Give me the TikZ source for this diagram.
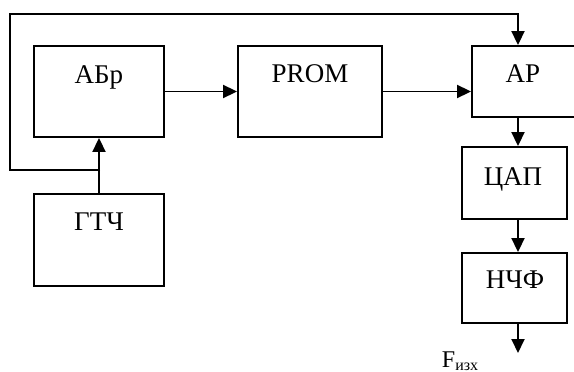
\documentclass[tikz,border=0pt]{standalone}
\usepackage{fontspec}
\setmainfont{Liberation Serif}
\usetikzlibrary{arrows.meta}
\begin{document}
\begin{tikzpicture}[x=1pt,y=-1pt,line width=1.9pt,
  blk/.style={draw,rectangle,inner sep=0pt},
  lbl/.style={anchor=base,font=\fontsize{27}{31}\selectfont,inner sep=0pt},
  arr/.style={-{Triangle[length=14pt,width=13pt]}}]
\useasboundingbox (0,0) rectangle (574,372);
% blocks
\node[blk,minimum width=130pt,minimum height=91pt] (abr)  at (99,91.5) {};
\node[blk,minimum width=130pt,minimum height=92pt] (gtch) at (99,240) {};
\node[blk,minimum width=144pt,minimum height=91pt] (prom) at (310,91.5) {};
\node[blk,minimum width=106pt,minimum height=71pt] (ap)   at (525,81.5) {};
\node[blk,minimum width=105pt,minimum height=72pt] (cap)  at (514.5,183) {};
\node[blk,minimum width=105pt,minimum height=70pt] (nchf) at (514.5,288) {};
% labels
\node[lbl] (tabr)  at (99,83)   {АБр};
\node[lbl] (tgtch) at (99,230)  {ГТЧ};
\node[lbl] (tprom) at (310,82)  {PROM};
\node[lbl] (tap)   at (523,82)  {AP};
\node[lbl] (tcap)  at (513,185) {ЦАП};
\node[lbl] (tnchf) at (515,288) {НЧФ};
\node[anchor=base west,inner sep=0pt,font=\fontsize{24}{28}\selectfont] (fout) at (441,367)
  {F\raisebox{-3pt}{\fontsize{16}{18}\selectfont изх}};
% helper points
\coordinate (bus) at (518,0);
\coordinate (j) at (100,170);
\coordinate (out) at (518,353);
% connectors
\draw[arr] (abr.east) -- (abr.east -| prom.west);
\draw[arr] (prom.east) -- (prom.east -| ap.west);
\draw[arr] (gtch.north) -- (abr.south);
\draw[arr] (j) -- (10,170) -- (10,14) -- (518,14) -- (ap.north -| bus);
\draw[arr] (ap.south -| bus) -- (cap.north -| bus);
\draw[arr] (cap.south -| bus) -- (nchf.north -| bus);
\draw[arr] (nchf.south -| bus) -- (out);
\end{tikzpicture}
\end{document}
